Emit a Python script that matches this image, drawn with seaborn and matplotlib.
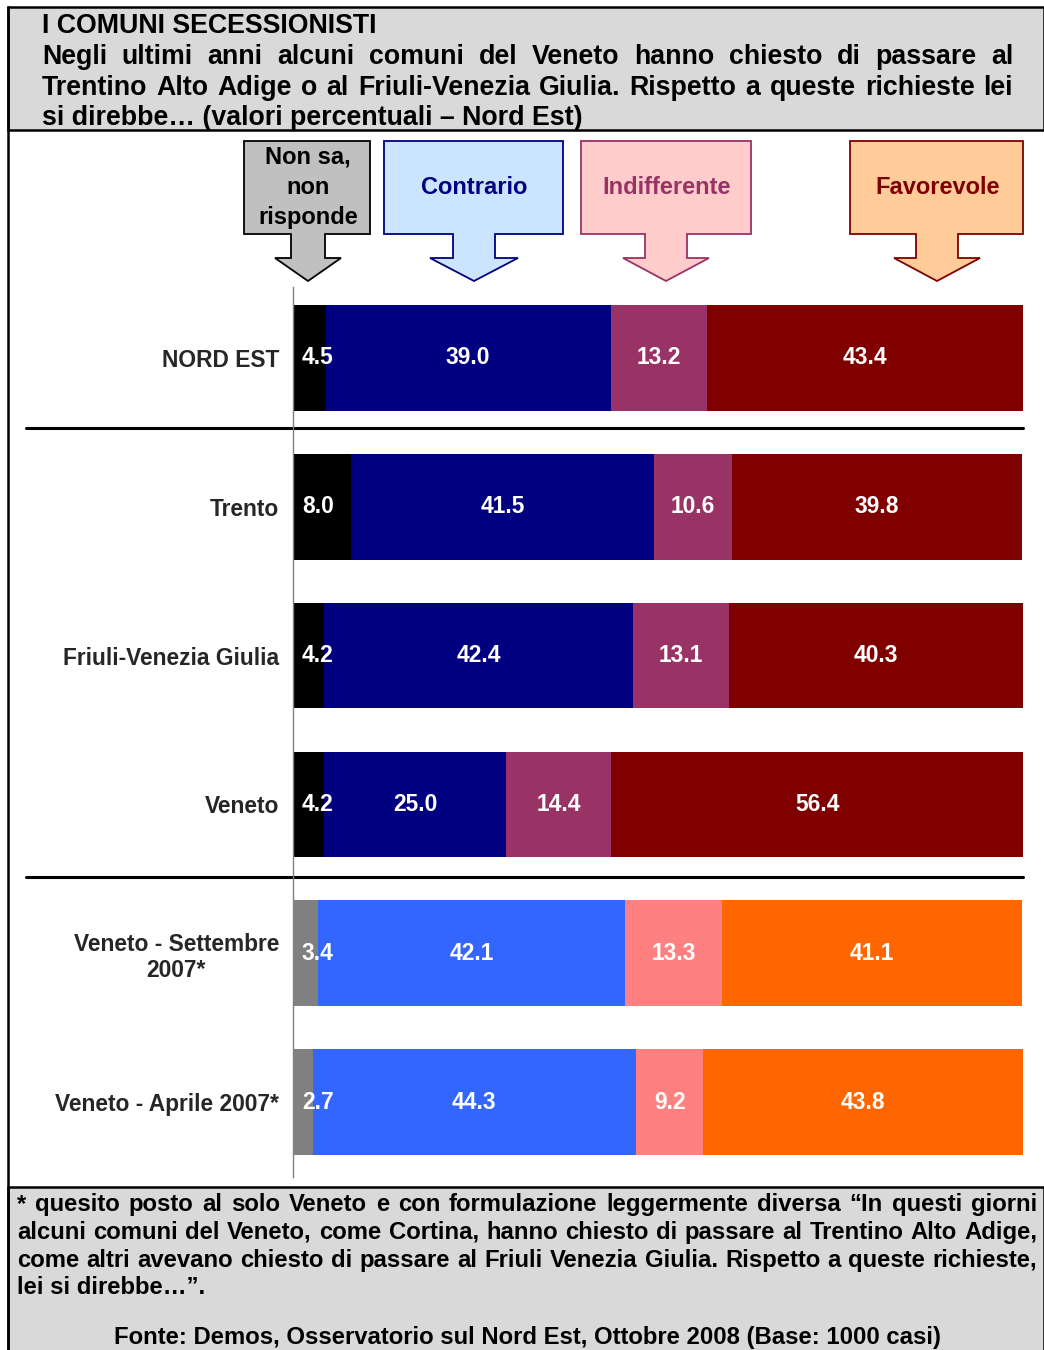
import matplotlib
matplotlib.use("Agg")
import matplotlib.pyplot as plt
from matplotlib.patches import Polygon, Rectangle
from matplotlib.lines import Line2D
import seaborn as sns
import pandas as pd
import numpy as np

# ---- data -------------------------------------------------------------
categories = ["NORD EST", "Trento", "Friuli-Venezia Giulia", "Veneto",
              "Veneto - Settembre\n2007*", "Veneto - Aprile 2007*"]
non_sa = [4.5, 8.0, 4.2, 4.2, 3.4, 2.7]
contrario = [39.0, 41.5, 42.4, 25.0, 42.1, 44.3]
indifferente = [13.2, 10.6, 13.1, 14.4, 13.3, 9.2]
favorevole = [43.4, 39.8, 40.3, 56.4, 41.1, 43.8]
series_labels = ["Non sa,\nnon\nrisponde", "Contrario", "Indifferente", "Favorevole"]

title_lines = [
    "I COMUNI SECESSIONISTI",
    "Negli ultimi anni alcuni comuni del Veneto hanno chiesto di passare al",
    "Trentino Alto Adige o al Friuli-Venezia Giulia. Rispetto a queste richieste lei",
    "si direbbe\u2026 (valori percentuali \u2013 Nord Est)",
]
note_lines = [
    "* quesito posto al solo Veneto e con formulazione leggermente diversa \u201cIn questi giorni",
    "alcuni comuni del Veneto, come Cortina, hanno chiesto di passare al Trentino Alto Adige,",
    "come altri avevano chiesto di passare al Friuli Venezia Giulia. Rispetto a queste richieste,",
    "lei si direbbe\u2026\u201d.",
]
source_line = "Fonte: Demos, Osservatorio sul Nord Est, Ottobre 2008 (Base: 1000 casi)"

# ---- styling ------------------------------------------------------------
current_colors = ["#000000", "#000080", "#993366", "#800000"]
past_colors = ["#808080", "#3366FF", "#FF8080", "#FF6600"]
header_faces = ["#C0C0C0", "#CCE5FF", "#FFCCCC", "#FFCC99"]
header_edges = ["#000000", "#000080", "#993366", "#800000"]
panel_gray = "#D9D9D9"

sns.set_style("white")
plt.rcParams["font.family"] = ["Liberation Sans", "DejaVu Sans"]
plt.rcParams["font.weight"] = "bold"

W, H = 1044, 1350
fig = plt.figure(figsize=(W / 100, H / 100), dpi=100)
fig.patch.set_facecolor("white")


def fx(px):
    return px / W


def fy(py):
    return 1 - py / H


# panels and frame
fig.patches.append(Rectangle((fx(8), fy(130)), fx(1044) - fx(8), fy(7) - fy(130),
                             transform=fig.transFigure, facecolor=panel_gray,
                             edgecolor="black", linewidth=1.8, zorder=0))
fig.patches.append(Rectangle((fx(8), fy(1352)), fx(1044) - fx(8), fy(1187) - fy(1352),
                             transform=fig.transFigure, facecolor=panel_gray,
                             edgecolor="black", linewidth=1.8, zorder=0))
fig.lines.append(Line2D([fx(8), fx(8)], [fy(7), fy(1350)], transform=fig.transFigure,
                        color="black", linewidth=1.8))

# ---- stacked bars ---------------------------------------------------------
df = pd.DataFrame({"categoria": categories, "non_sa": non_sa, "contrario": contrario,
                   "indifferente": indifferente, "favorevole": favorevole})
series_cols = ["non_sa", "contrario", "indifferente", "favorevole"]
cum = df[series_cols].cumsum(axis=1)
row_colors = [current_colors] * 4 + [past_colors] * 2

ax = fig.add_axes([fx(293), fy(1177), (1023 - 293) / W, (1177 - 287) / H])
ax.patch.set_alpha(0)

for k in range(3, -1, -1):
    pal = {cat: row_colors[i][k] for i, cat in enumerate(categories)}
    sns.barplot(x=cum[series_cols[k]], y=df["categoria"], hue=df["categoria"],
                palette=pal, orient="h", width=0.71, saturation=1, legend=False,
                linewidth=0, ax=ax)

ax.set_xlim(0, 100)
ax.set_ylim(5.504, -0.477)
ax.set_xlabel("")
ax.set_ylabel("")
ax.set_xticks([])
for s in ["top", "right", "bottom"]:
    ax.spines[s].set_visible(False)
ax.spines["left"].set_color("#808080")
ax.spines["left"].set_linewidth(1.0)
ax.tick_params(axis="y", length=0, pad=10)
ax.set_yticks(range(len(categories)))
ax.set_yticklabels(categories, fontsize=16.4, fontweight="bold")
for lbl in ax.get_yticklabels():
    lbl.set_multialignment("center")

# value labels
for i in range(len(categories)):
    start = 0.0
    for k, col in enumerate(series_cols):
        v = df.loc[i, col]
        if k == 0:
            ax.text(1.2, i, f"{v:.1f}", ha="left", va="center", color="white",
                    fontsize=16.4, fontweight="bold")
        else:
            ax.text(start + v / 2, i, f"{v:.1f}", ha="center", va="center",
                    color="white", fontsize=16.4, fontweight="bold")
        start += v

# group separators
for yv in (0.47, 3.49):
    ax.plot([-0.366, 1.0], [yv, yv], transform=ax.get_yaxis_transform(),
            clip_on=False, color="black", linewidth=2.2)

# ---- header callouts ------------------------------------------------------
callouts = [
    # box x0, box x1, shaft half width, head half width, tip x
    (244, 370, 17, 33, 308),
    (384, 563, 21, 44, 474),
    (581, 751, 21, 43, 666),
    (850, 1023, 21, 43, 937),
]
box_top, box_bot, shaft_bot, tip_y = 141, 234, 258, 281
for (x0, x1, sh, hh, tx), face, edge, label in zip(callouts, header_faces,
                                                   header_edges, series_labels):
    pts = [(x0, box_top), (x1, box_top), (x1, box_bot), (tx + sh, box_bot),
           (tx + sh, shaft_bot), (tx + hh, shaft_bot), (tx, tip_y),
           (tx - hh, shaft_bot), (tx - sh, shaft_bot), (tx - sh, box_bot),
           (x0, box_bot)]
    poly = Polygon([(fx(a), fy(b)) for a, b in pts], closed=True,
                   transform=fig.transFigure, facecolor=face, edgecolor=edge,
                   linewidth=1.3, zorder=2)
    fig.patches.append(poly)
    fig.text(fx((x0 + x1) / 2 + 1), fy(187), label, ha="center", va="center",
             color=edge, fontsize=17, fontweight="bold", linespacing=1.4,
             multialignment="center", zorder=3)

# ---- title and note text ---------------------------------------------------
renderer = fig.canvas.get_renderer()


def place_line(text, x0, x1, baseline, size, justify):
    words = text.split(" ")
    if not justify or len(words) == 1:
        fig.text(fx(x0), fy(baseline), text, ha="left", va="baseline",
                 fontsize=size, fontweight="bold", color="black")
        return
    objs, widths = [], []
    for w in words:
        t = fig.text(0, fy(baseline), w, ha="left", va="baseline",
                     fontsize=size, fontweight="bold", color="black")
        objs.append(t)
        widths.append(t.get_window_extent(renderer).width)
    gap = (x1 - x0 - sum(widths)) / (len(words) - 1)
    x = x0
    for t, wd in zip(objs, widths):
        t.set_x(fx(x))
        x += wd + gap


for j, (line, base) in enumerate(zip(title_lines, [33, 64, 95, 125])):
    place_line(line, 42, 1013, base, 19.3, justify=j in (1, 2))

for j, (line, base) in enumerate(zip(note_lines, [1211, 1239, 1267, 1294])):
    place_line(line, 17, 1037, base, 17.2, justify=j < 3)

fig.text(fx(528), fy(1344), source_line, ha="center", va="baseline",
         fontsize=17.2, fontweight="bold", color="black")

fig.savefig("out.png", dpi=100)
